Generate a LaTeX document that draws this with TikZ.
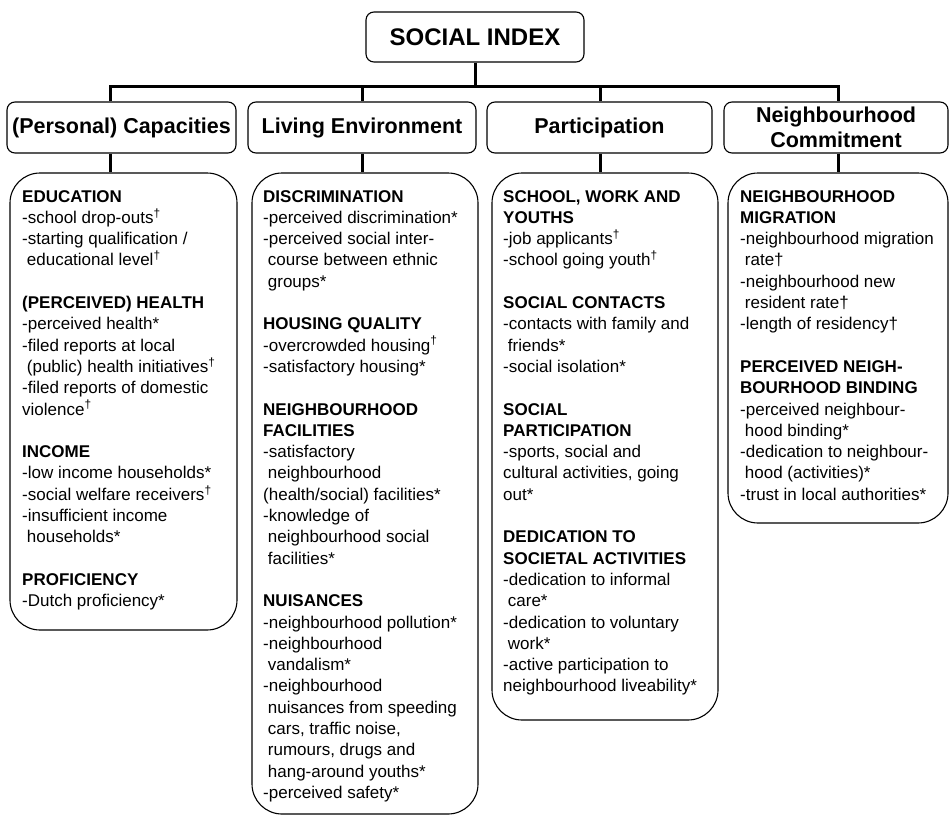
\documentclass[tikz,border=0pt]{standalone}
\usepackage{fontspec}
\setmainfont{Liberation Sans}
\tikzstyle{topbox}=[draw, line width=1.1pt, rounded corners=8pt, inner sep=0pt, font=\fontsize{24}{28}\selectfont\bfseries]
\tikzstyle{catbox}=[draw, line width=1.1pt, rounded corners=8pt, inner sep=0pt, minimum height=51pt, align=center, font=\fontsize{21.5}{25}\selectfont\bfseries]
\tikzstyle{listbox}=[draw, line width=1.1pt, rounded corners=30pt, inner sep=0pt]
\tikzstyle{items}=[anchor=north west, inner sep=0pt, align=left, font=\fontsize{17}{21.3}\selectfont]
\tikzstyle{link}=[line width=3pt]
\newcommand{\supdag}{\textsuperscript{†}}

\begin{document}
\begin{tikzpicture}[x=1pt, y=-1pt]
\useasboundingbox (0,0) rectangle (949,816);
% Index and its four domains
    \node[topbox, minimum width=218pt, minimum height=50pt] (idx) at (475,37) {SOCIAL INDEX};
    \node[catbox, minimum width=229pt] (cap) at (121.5,127.5) {(Personal) Capacities};
    \node[catbox, minimum width=228pt] (liv) at (362,127.5) {Living Environment};
    \node[catbox, minimum width=225pt] (par) at (599.5,127.5) {Participation};
    \node[catbox, minimum width=224pt] (com) at (836,127.5) {Neighbourhood\\Commitment};
% Indicator boxes
    \node[listbox, minimum width=227pt, minimum height=457pt] (capbox) at (123.5,401.5) {};
    \node[listbox, minimum width=226pt, minimum height=641pt] (livbox) at (365,493.5) {};
    \node[listbox, minimum width=226pt, minimum height=547pt] (parbox) at (605,446.5) {};
    \node[listbox, minimum width=220pt, minimum height=350pt] (combox) at (838,348) {};
% Tree
    \coordinate (b1) at (110,86);
    \coordinate (b2) at (362,86);
    \coordinate (b3) at (600,86);
    \coordinate (b4) at (838,86);
    \draw[link] (idx.south) -- (idx.south |- b1);
    \draw[link] (b1 |- cap.north) -- (b1) -- (b4) -- (b4 |- com.north);
    \draw[link] (b2) -- (b2 |- liv.north);
    \draw[link] (b3) -- (b3 |- par.north);
    \draw[link] (b1 |- cap.south) -- (b1 |- capbox.north);
    \draw[link] (b2 |- liv.south) -- (b2 |- livbox.north);
    \draw[link] (b3 |- par.south) -- (b3 |- parbox.north);
    \draw[link] (b4 |- com.south) -- (b4 |- combox.north);
% Indicators
    \node[items] (captxt) at (22,190) {\textbf{EDUCATION}\\
      -school drop-outs\supdag\\
      -starting qualification /\\
      \ educational level\supdag\\[21.3pt]
      \textbf{(PERCEIVED) HEALTH}\\
      -perceived health*\\
      -filed reports at local\\
      \ (public) health initiatives\supdag\\
      -filed reports of domestic\\
      violence\supdag\\[21.3pt]
      \textbf{INCOME}\\
      -low income households*\\
      -social welfare receivers\supdag\\
      -insufficient income\\
      \ households*\\[21.3pt]
      \textbf{PROFICIENCY}\\
      -Dutch proficiency*};
    \node[items] (livtxt) at (263,190) {\textbf{DISCRIMINATION}\\
      -perceived discrimination*\\
      -perceived social inter-\\
      \ course between ethnic\\
      \ groups*\\[21.3pt]
      \textbf{HOUSING QUALITY}\\
      -overcrowded housing\supdag\\
      -satisfactory housing*\\[21.3pt]
      \textbf{NEIGHBOURHOOD}\\
      \textbf{FACILITIES}\\
      -satisfactory\\
      \ neighbourhood\\
      (health/social) facilities*\\
      -knowledge of\\
      \ neighbourhood social\\
      \ facilities*\\[21.3pt]
      \textbf{NUISANCES}\\
      -neighbourhood pollution*\\
      -neighbourhood\\
      \ vandalism*\\
      -neighbourhood\\
      \ nuisances from speeding\\
      \ cars, traffic noise,\\
      \ rumours, drugs and\\
      \ hang-around youths*\\
      -perceived safety*};
    \node[items] (partxt) at (503,190) {\textbf{SCHOOL, WORK AND}\\
      \textbf{YOUTHS}\\
      -job applicants\supdag\\
      -school going youth\supdag\\[21.3pt]
      \textbf{SOCIAL CONTACTS}\\
      -contacts with family and\\
      \ friends*\\
      -social isolation*\\[21.3pt]
      \textbf{SOCIAL}\\
      \textbf{PARTICIPATION}\\
      -sports, social and\\
      cultural activities, going\\
      out*\\[21.3pt]
      \textbf{DEDICATION TO}\\
      \textbf{SOCIETAL ACTIVITIES}\\
      -dedication to informal\\
      \ care*\\
      -dedication to voluntary\\
      \ work*\\
      -active participation to\\
      neighbourhood liveability*};
    \node[items] (comtxt) at (740,190) {\textbf{NEIGHBOURHOOD}\\
      \textbf{MIGRATION}\\
      -neighbourhood migration\\
      \ rate†\\
      -neighbourhood new\\
      \ resident rate†\\
      -length of residency†\\[21.3pt]
      \textbf{PERCEIVED NEIGH-}\\
      \textbf{BOURHOOD BINDING}\\
      -perceived neighbour-\\
      \ hood binding*\\
      -dedication to neighbour-\\
      \ hood (activities)*\\
      -trust in local authorities*};
\end{tikzpicture}
\end{document}
